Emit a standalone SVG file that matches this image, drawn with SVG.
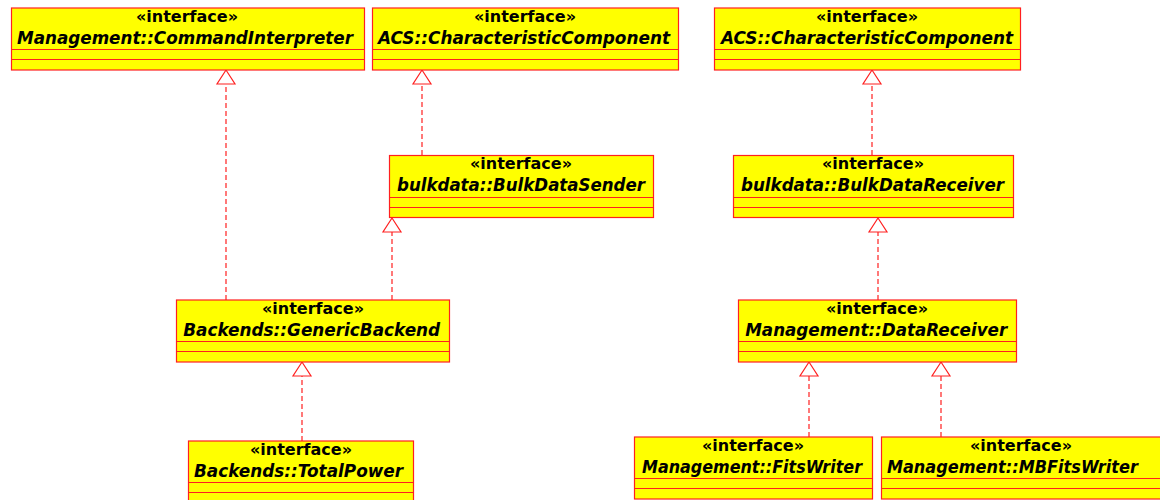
<svg xmlns="http://www.w3.org/2000/svg" width="1160" height="500" viewBox="0 0 1160 500">
  <style>
    .box { fill: #ffff00; stroke: #ff2020; stroke-width: 1.2; }
    .sep { stroke: #ff2020; stroke-width: 1.2; }
    .st { font-family: "DejaVu Sans", sans-serif; font-weight: bold; font-size: 16px; text-anchor: middle; fill: #000; }
    .nm { font-family: "DejaVu Sans", sans-serif; font-weight: bold; font-style: italic; font-size: 16.8px; text-anchor: middle; fill: #000; }
    .dep { fill: none; stroke: #ff2020; stroke-width: 1.2; stroke-dasharray: 5 3; }
    .tri { fill: #ffffff; stroke: #ff2020; stroke-width: 1.2; }
  </style>
  <rect width="1160" height="500" fill="#ffffff"/>

  <!-- realization / generalization connectors -->
  <g id="connectors">
    <!-- GenericBackend -> CommandInterpreter -->
    <line class="dep" x1="226" y1="300" x2="226" y2="84"/>
    <polygon class="tri" points="226,70 217,84 235,84"/>
    <!-- BulkDataSender -> CharacteristicComponent -->
    <line class="dep" x1="422" y1="155" x2="422" y2="84"/>
    <polygon class="tri" points="422,70 413,84 431,84"/>
    <!-- GenericBackend -> BulkDataSender -->
    <line class="dep" x1="392" y1="300" x2="392" y2="232"/>
    <polygon class="tri" points="392,218 383,232 401,232"/>
    <!-- TotalPower -> GenericBackend -->
    <line class="dep" x1="302" y1="441" x2="302" y2="376"/>
    <polygon class="tri" points="302,362 293,376 311,376"/>
    <!-- BulkDataReceiver -> CharacteristicComponent -->
    <line class="dep" x1="872" y1="155" x2="872" y2="84"/>
    <polygon class="tri" points="872,70 863,84 881,84"/>
    <!-- DataReceiver -> BulkDataReceiver -->
    <line class="dep" x1="878" y1="300" x2="878" y2="232"/>
    <polygon class="tri" points="878,218 869,232 887,232"/>
    <!-- FitsWriter -> DataReceiver -->
    <line class="dep" x1="809" y1="437" x2="809" y2="376"/>
    <polygon class="tri" points="809,362 800,376 818,376"/>
    <!-- MBFitsWriter -> DataReceiver -->
    <line class="dep" x1="941" y1="437" x2="941" y2="376"/>
    <polygon class="tri" points="941,362 932,376 950,376"/>
  </g>

  <g id="CommandInterpreter">
    <rect class="box" x="11.5" y="8" width="353" height="62"/>
    <line class="sep" x1="11.5" y1="49.5" x2="364.5" y2="49.5"/>
    <line class="sep" x1="11.5" y1="59.5" x2="364.5" y2="59.5"/>
    <text class="st" x="187" y="21.5">«interface»</text>
    <text class="nm" x="185" y="43.5" textLength="336" lengthAdjust="spacingAndGlyphs">Management::CommandInterpreter</text>
  </g>

  <g id="CharacteristicComponent1">
    <rect class="box" x="372.5" y="8" width="306" height="62"/>
    <line class="sep" x1="372.5" y1="49.5" x2="678.5" y2="49.5"/>
    <line class="sep" x1="372.5" y1="59.5" x2="678.5" y2="59.5"/>
    <text class="st" x="525" y="21.5">«interface»</text>
    <text class="nm" x="524" y="43.5" textLength="292" lengthAdjust="spacingAndGlyphs">ACS::CharacteristicComponent</text>
  </g>

  <g id="CharacteristicComponent2">
    <rect class="box" x="714.5" y="8" width="306" height="62"/>
    <line class="sep" x1="714.5" y1="49.5" x2="1020.5" y2="49.5"/>
    <line class="sep" x1="714.5" y1="59.5" x2="1020.5" y2="59.5"/>
    <text class="st" x="867" y="21.5">«interface»</text>
    <text class="nm" x="867" y="43.5" textLength="292" lengthAdjust="spacingAndGlyphs">ACS::CharacteristicComponent</text>
  </g>

  <g id="BulkDataSender">
    <rect class="box" x="389.5" y="155.5" width="264" height="62"/>
    <line class="sep" x1="389.5" y1="197.5" x2="653.5" y2="197.5"/>
    <line class="sep" x1="389.5" y1="207.5" x2="653.5" y2="207.5"/>
    <text class="st" x="521" y="169">«interface»</text>
    <text class="nm" x="521" y="191" textLength="248" lengthAdjust="spacingAndGlyphs">bulkdata::BulkDataSender</text>
  </g>

  <g id="BulkDataReceiver">
    <rect class="box" x="733.5" y="155.5" width="280" height="62"/>
    <line class="sep" x1="733.5" y1="197.5" x2="1013.5" y2="197.5"/>
    <line class="sep" x1="733.5" y1="207.5" x2="1013.5" y2="207.5"/>
    <text class="st" x="873" y="169">«interface»</text>
    <text class="nm" x="872.5" y="191" textLength="263" lengthAdjust="spacingAndGlyphs">bulkdata::BulkDataReceiver</text>
  </g>

  <g id="GenericBackend">
    <rect class="box" x="176.5" y="300" width="273" height="62"/>
    <line class="sep" x1="176.5" y1="341.5" x2="449.5" y2="341.5"/>
    <line class="sep" x1="176.5" y1="351.5" x2="449.5" y2="351.5"/>
    <text class="st" x="313" y="313.5">«interface»</text>
    <text class="nm" x="311.7" y="335.5" textLength="257" lengthAdjust="spacingAndGlyphs">Backends::GenericBackend</text>
  </g>

  <g id="DataReceiver">
    <rect class="box" x="738.5" y="300" width="278" height="62"/>
    <line class="sep" x1="738.5" y1="341.5" x2="1016.5" y2="341.5"/>
    <line class="sep" x1="738.5" y1="351.5" x2="1016.5" y2="351.5"/>
    <text class="st" x="877" y="313.5">«interface»</text>
    <text class="nm" x="876.2" y="335.5" textLength="262" lengthAdjust="spacingAndGlyphs">Management::DataReceiver</text>
  </g>

  <g id="TotalPower">
    <rect class="box" x="188.5" y="441" width="225" height="62"/>
    <line class="sep" x1="188.5" y1="482.5" x2="413.5" y2="482.5"/>
    <line class="sep" x1="188.5" y1="492.5" x2="413.5" y2="492.5"/>
    <text class="st" x="301" y="454.5">«interface»</text>
    <text class="nm" x="298.5" y="476.5" textLength="209" lengthAdjust="spacingAndGlyphs">Backends::TotalPower</text>
  </g>

  <g id="FitsWriter">
    <rect class="box" x="634.5" y="437" width="238" height="62"/>
    <line class="sep" x1="634.5" y1="478.5" x2="872.5" y2="478.5"/>
    <line class="sep" x1="634.5" y1="488.5" x2="872.5" y2="488.5"/>
    <text class="st" x="753" y="450.5">«interface»</text>
    <text class="nm" x="752" y="472.5" textLength="220" lengthAdjust="spacingAndGlyphs">Management::FitsWriter</text>
  </g>

  <g id="MBFitsWriter">
    <rect class="box" x="881.5" y="437" width="280" height="62"/>
    <line class="sep" x1="881.5" y1="478.5" x2="1161.5" y2="478.5"/>
    <line class="sep" x1="881.5" y1="488.5" x2="1161.5" y2="488.5"/>
    <text class="st" x="1021" y="450.5">«interface»</text>
    <text class="nm" x="1012.4" y="472.5" textLength="251" lengthAdjust="spacingAndGlyphs">Management::MBFitsWriter</text>
  </g>
</svg>
